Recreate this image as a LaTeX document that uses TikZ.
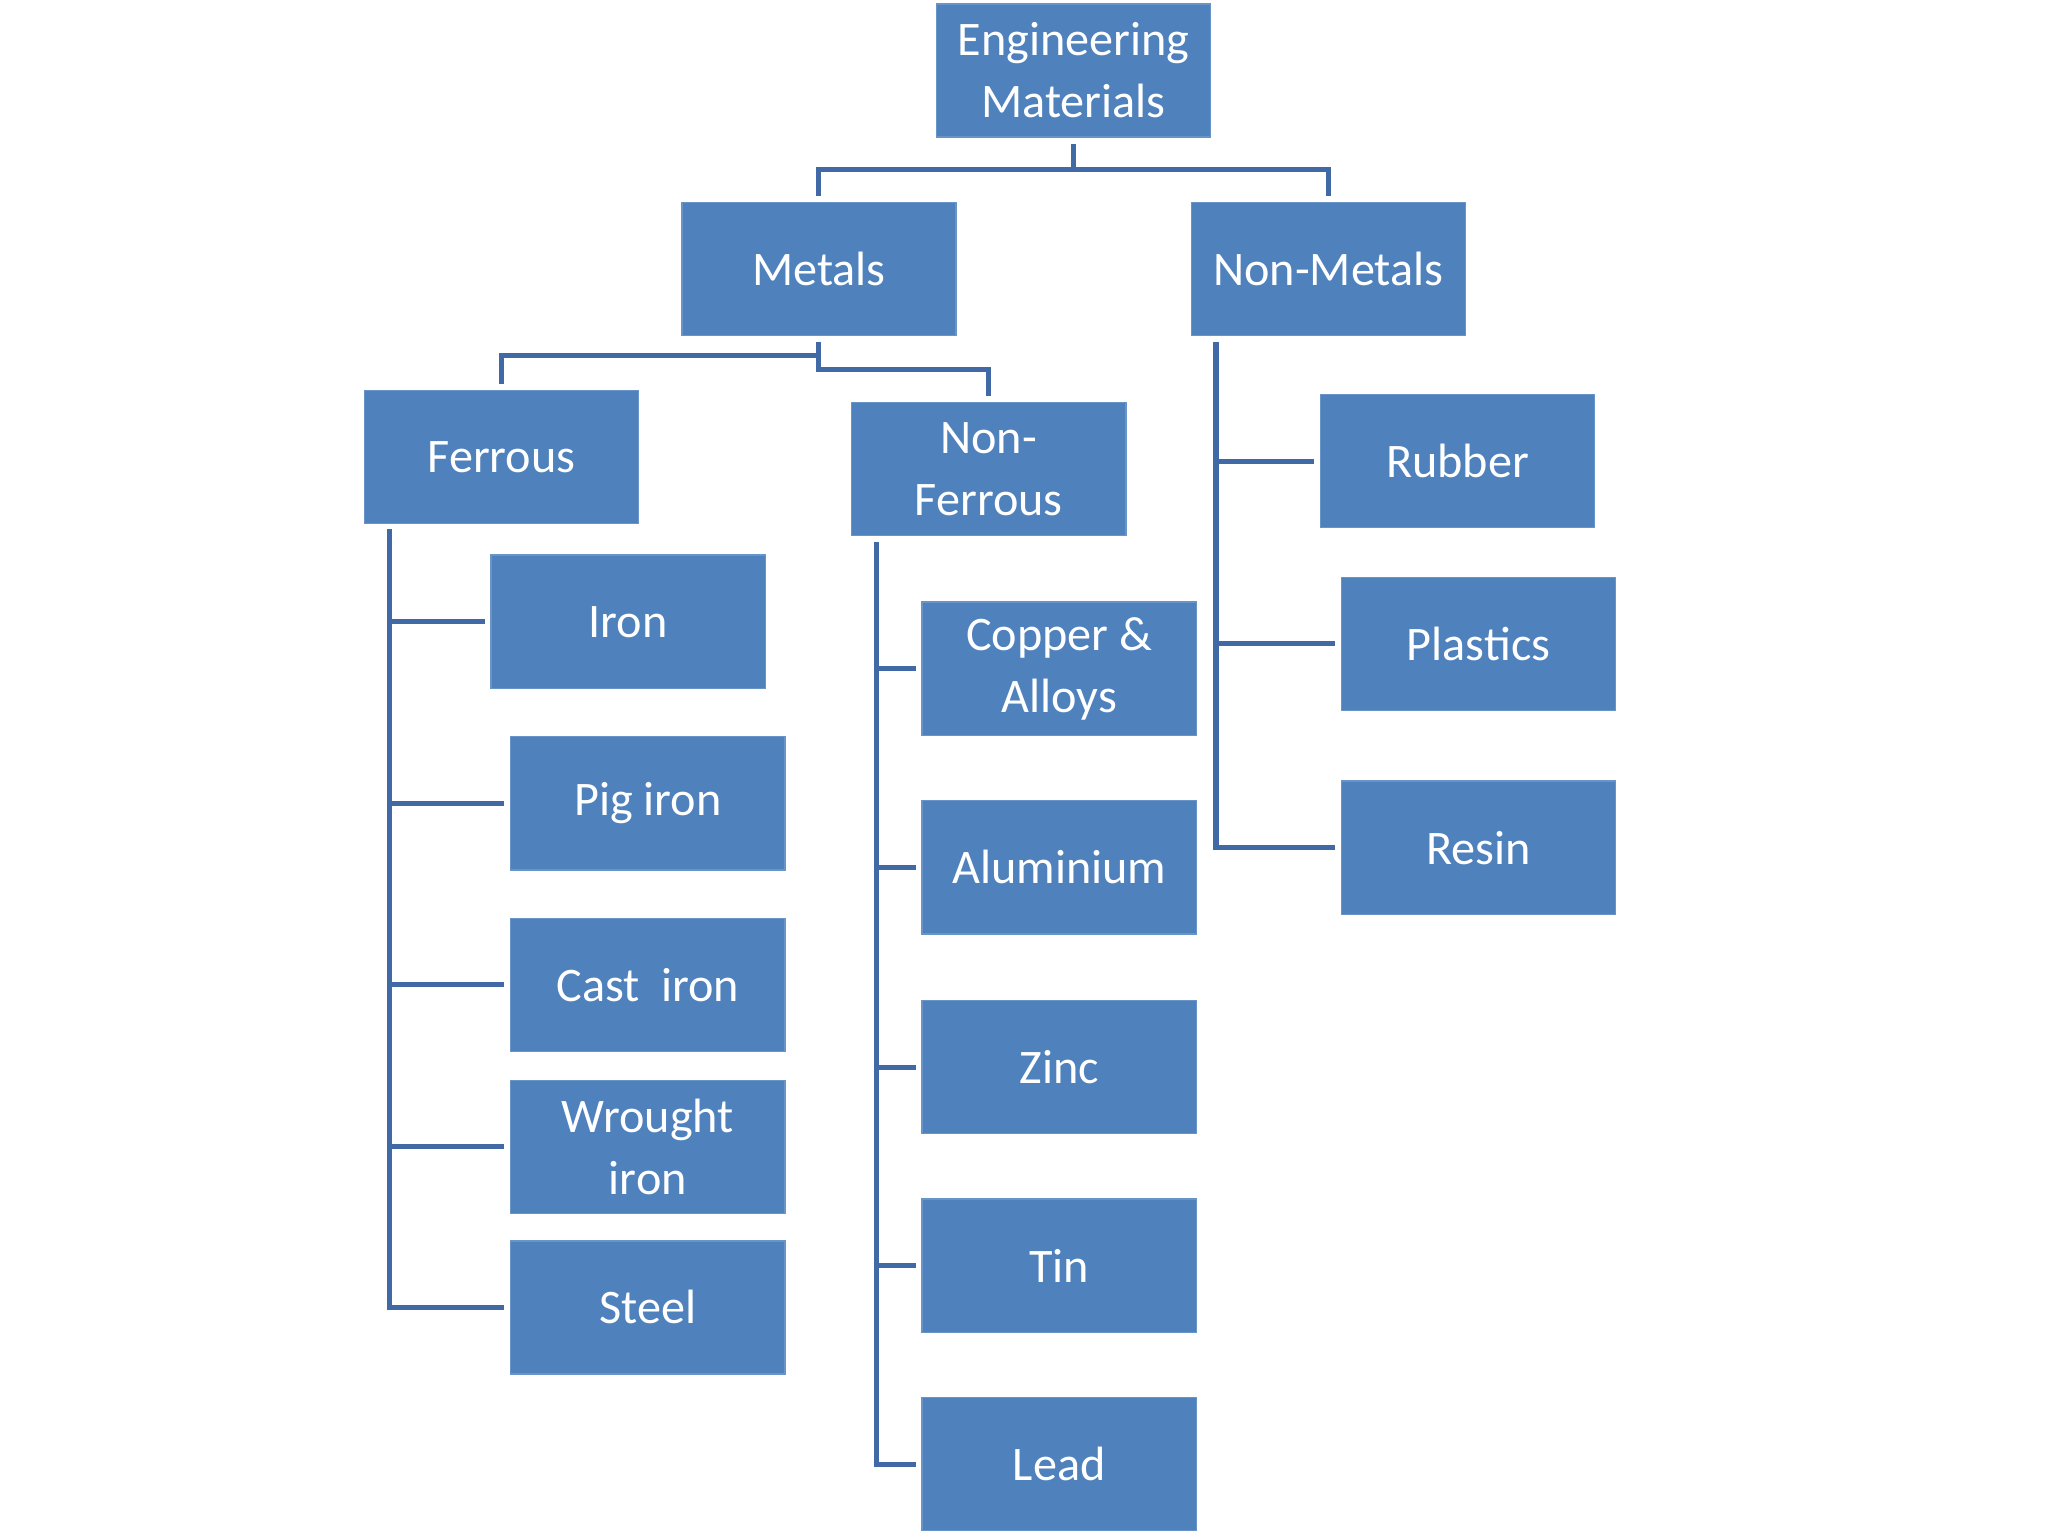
\documentclass[tikz,border=0pt]{standalone}
\usepackage{fontspec}
\setmainfont{Carlito}
\definecolor{boxc}{RGB}{79,129,189}
\definecolor{linec}{RGB}{65,105,165}
\begin{document}
\begin{tikzpicture}[x=0.02cm,y=-0.02cm,
 box/.style={fill=boxc,draw=boxc!85!white,line width=0.6pt,minimum width=4.2cm,minimum height=2.04cm,inner sep=0pt,text=white,align=center,font=\fontsize{21}{27}\selectfont},
 con/.style={draw=linec,line width=2.2pt}]
\useasboundingbox (0,0) rectangle (1568,1176);
\node[box] (em) at (822,54) {Engineering\\Materials};
\node[box] (me) at (627,206) {Metals};
\node[box] (nm) at (1017,206) {Non-Metals};
\node[box] (fe) at (384,350) {Ferrous};
\node[box] (nf) at (757,359) {Non-\\Ferrous};
\node[box] (ir) at (481,476) {Iron};
\node[box] (pi) at (496,615) {Pig iron};
\node[box] (ci) at (496,754) {Cast\ \ iron};
\node[box] (wi) at (496,878) {Wrought\\iron};
\node[box] (st) at (496,1001) {Steel};
\node[box] (cu) at (811,512) {Copper \&\\Alloys};
\node[box] (al) at (811,664) {Aluminium};
\node[box] (zn) at (811,817) {Zinc};
\node[box] (tn) at (811,969) {Tin};
\node[box] (pb) at (811,1121) {Lead};
\node[box] (ru) at (1116,353) {Rubber};
\node[box] (pl) at (1132,493) {Plastics};
\node[box] (re) at (1132,649) {Resin};
% top level
\coordinate (emb) at (822,110);
\draw[con] (emb) -- (822,130) -- (627,130) -- (627,150);
\draw[con] (822,130) -- (1017,130) -- (1017,150);
% metals
\draw[con] (627,262) -- (627,272) -- (384,272) -- (384,294);
\draw[con] (627,272) -- (627,283) -- (757,283) -- (757,303);
% ferrous
\draw[con] (298,405) -- (298,1001) -- (386,1001);
\foreach \n/\y/\e in {ir/476/371,pi/615/386,ci/754/386,wi/878/386}
  \draw[con] (298,\y) -- (\e,\y);
% non-ferrous
\draw[con] (671,415) -- (671,1121) -- (701,1121);
\foreach \y in {512,664,817,969}
  \draw[con] (671,\y) -- (701,\y);
% non-metals
\draw[con] (931,262) -- (931,649) -- (1022,649);
\draw[con] (931,353) -- (1006,353);
\draw[con] (931,493) -- (1022,493);
\end{tikzpicture}
\end{document}
